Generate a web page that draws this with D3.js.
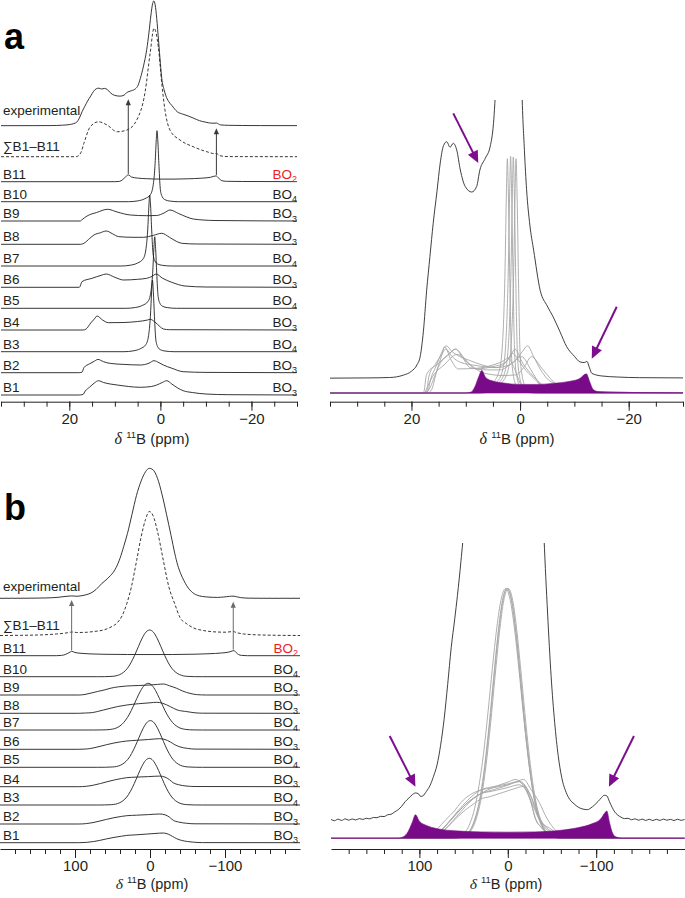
<!DOCTYPE html>
<html><head><meta charset="utf-8">
<script src="https://cdn.jsdelivr.net/npm/d3@7"></script>
<style>body{margin:0;background:#fff}svg{display:block}text{font-family:"Liberation Sans",Arial,Helvetica,sans-serif}</style>
</head><body><svg id="chart" width="685" height="898"></svg>
<script>
// ---------------- DATA ----------------
const siteNames = ["B1","B2","B3","B4","B5","B6","B7","B8","B9","B10","B11"];
const siteTypes = ["BO3","BO3","BO4","BO3","BO4","BO3","BO4","BO3","BO3","BO4","BO2"];
const minorTicksA = [35,30,25,20,15,10,5,0,-5,-10,-15,-20,-25,-30];
const majorTicksA = [20,0,-20];
const minorTicksB = [180,160,140,120,100,80,60,40,20,0,-20,-40,-60,-80,-100,-120,-140,-160,-180];
const majorTicksB = [100,0,-100];

// panel a : experimental and fitted sum (units, main peak = 100)
const expA = [[35,0.02],[28,0.05],[24,0.1],[21.5,0.4],[20,0.9],[19,1.7],[18.4,2.75],[17.8,6],[17.2,11.2],[16.6,15.5],[16,19.7],[15.3,23.8],[14.7,27.4],[14.1,29.6],[13.5,30.1],[12.9,29.4],[12.3,29.9],[11.65,29],[11,26.5],[10.1,24.4],[8.9,23.7],[8,24.4],[7.4,26.5],[6.4,28],[5.5,29.5],[4.9,32.4],[4.4,38],[3.7,48],[3.0,61],[2.5,75],[2.1,88],[1.7,98],[1.45,100],[1.15,97],[0.8,86],[0.4,68],[0,50],[-0.3,38],[-0.8,29],[-1.2,24],[-1.8,19.5],[-2.5,16.3],[-3.7,11.2],[-5,9.2],[-6.1,7.8],[-7.3,6],[-8.6,4],[-10,2.8],[-11,2.1],[-11.8,2.0],[-12.3,2.15],[-12.8,1.3],[-13.2,0.64],[-15,0.3],[-18,0.16],[-22,0.08],[-30,0.05]];
const sumA = [[35,0],[18.5,0],[17.5,3],[16.8,10.7],[15.4,24],[13.6,28],[11.7,25.4],[9.5,20],[7.35,21.4],[5.2,29.4],[3.35,52],[2.25,83],[1.4,103],[0.45,88],[-0.3,59],[-1,37.5],[-2.1,21.4],[-4.3,13.4],[-7.2,8],[-10.2,4],[-11.8,2.5],[-12.3,2.6],[-13,0.8],[-15,0.1],[-30,0]];
// panel a : components B1..B11
const a_B1 = [[35,0],[18,0],[17,0.5],[16.5,4],[15.5,8],[14.5,12],[13.6,14.3],[12.5,12.5],[11,11],[9.5,10],[7,8.5],[4.4,7.7],[2,8.5],[0.8,10],[-0.4,12.5],[-1.4,14.3],[-2.5,11],[-3.8,7],[-5,4.3],[-7,2.5],[-10,1],[-15,0.3],[-30,0]];
const a_B2 = [[35,0],[18,0],[17.2,0.5],[16.8,5],[15.5,9],[14.5,11.5],[13.7,13.3],[12.5,11],[11,9.3],[8,8.3],[4.4,7.7],[2.5,9.5],[1.4,12],[0.3,10],[-0.65,7.7],[-2.5,4.5],[-5,1],[-10,0.3],[-30,0]];
const a_B3 = [[35,0],[8,0],[6,0.8],[4.4,3],[3.2,7],[2.6,16],[2.2,35],[1.9,62],[1.75,71.7],[1.55,60],[1.3,35],[1.0,12],[0.6,5],[0,2],[-1,0.7],[-3,0],[-30,0]];
const a_B4 = [[35,0],[17,0],[16.3,1],[15.3,7],[14.5,11],[13.9,14],[12.7,10],[11.4,7.3],[8,7.5],[5,8.5],[2.8,10],[2.25,10.7],[1.2,8],[0,3],[-0.65,1],[-2,0.3],[-30,0]];
const a_B5 = [[35,0],[7.5,0],[5.5,0.8],[3.9,3],[2.7,7],[2.1,16],[1.7,35],[1.4,62],[1.25,71.5],[1.05,60],[0.8,35],[0.5,12],[0.1,5],[-0.5,2],[-1.5,0.7],[-3.5,0],[-30,0]];
const a_B6 = [[35,0],[17.8,0],[17.2,5.7],[15,9],[13,12],[11.9,13.3],[10,10],[8.1,7.3],[5,8],[3,9],[1.8,11],[0.95,13.3],[-0.5,9],[-2.5,5],[-5.4,1.3],[-10,0.3],[-30,0]];
const a_B7 = [[35,0],[8.6,0],[6.6,0.8],[5,3],[3.8,7],[3.2,16],[2.8,35],[2.5,62],[2.35,71],[2.15,60],[1.9,35],[1.6,12],[1.2,5],[0.6,2],[-0.4,0.7],[-2.4,0],[-30,0]];
const a_B8 = [[35,0],[17.5,0],[16.8,1],[15.5,6],[14.6,9.3],[13.2,11.5],[11.9,13.3],[10.5,10.5],[9.2,7.7],[6,7],[3.7,7],[1.5,9],[-0.3,11],[-2,7],[-3.5,3],[-4.7,1],[-8,0.3],[-30,0]];
const a_B9 = [[35,0],[17.6,0],[17.3,1],[16.1,5],[14,8.5],[11.6,11.7],[9.5,9],[6.6,6],[3,5.3],[0.8,5.5],[-0.8,8],[-2.1,11],[-4,7.5],[-5.8,4],[-7.2,2],[-12,0.5],[-30,0]];
const a_B10 = [[35,0],[7,0],[5,0.8],[3.4,3],[2.2,7],[1.6,16],[1.2,35],[0.9,62],[0.75,71],[0.55,60],[0.3,35],[0,12],[-0.4,5],[-1,2],[-2,0.7],[-4,0],[-30,0]];
const a_B11 = [[35,0],[10,0],[9,0.3],[8.3,2],[7.6,5],[7.05,6.8],[6.3,4.6],[5,3.6],[3,3],[0,2.6],[-3,2.6],[-6,2.9],[-9,3.5],[-11,4.4],[-12.2,5.8],[-12.8,3.5],[-13.5,1],[-14.5,0.4],[-18,0.2],[-30,0.05]];

// panel b : experimental and fitted sum
const expB = [[200,0.05],[196,-0.06],[192,0.08],[188,-0.04],[184,0.1],[180,-0.02],[176,0.09],[172,0.0],[168,0.12],[164,0.05],[160,0.15],[156,0.1],[152,0.22],[148,0.2],[144,0.32],[140,0.3],[136,0.45],[132,0.5],[128,0.7],[124,0.9],[120,1.2],[116,1.6],[112,1.9],[108,2.2],[104.5,2.35],[101.5,2.3],[98.5,2.05],[96,2.1],[92,2.5],[88,3.0],[84,3.8],[80,4.8],[76,6.5],[72,8.8],[68,11.8],[64,15],[60,17.5],[57,19.5],[53,22.5],[49,26],[45,31],[40,40],[35,52],[30,65],[24,84],[18,103],[12,117],[6,126.5],[1,130],[-4,128.5],[-10,120],[-16,104],[-22,84],[-28,63],[-33,45],[-37,33],[-41,24.5],[-45,18],[-49,12.5],[-53,8.5],[-57,5.6],[-61,3.7],[-66,2.4],[-70,1.8],[-75,1.4],[-80,1.1],[-85,0.95],[-90,0.9],[-94,1.05],[-98,1.3],[-102,1.6],[-106,1.95],[-109,2.15],[-112,2.1],[-115,1.6],[-118,1.1],[-121,0.7],[-124,0.45],[-128,0.25],[-132,0.12],[-136,0.15],[-140,0.02],[-144,0.1],[-148,-0.02],[-152,0.08],[-156,-0.04],[-160,0.07],[-164,-0.05],[-168,0.06],[-172,-0.04],[-176,0.08],[-180,-0.02],[-184,0.06],[-188,-0.05],[-192,0.07],[-196,-0.03],[-200,0.05]];
const sumB = [[200,0],[150,0.5],[125,1.5],[112,2.5],[106,3.3],[103,3.5],[98,3],[85,3.2],[75,4],[62,5.5],[52,8.5],[44,12.5],[37,20],[31,31.7],[25,48],[17.8,75],[12,98],[6,116],[1,124],[-4,120],[-10,104],[-17.8,75],[-25,49],[-33,31.7],[-40,18],[-49,11.7],[-60,7],[-71,5],[-85,3.7],[-100,3.3],[-108,3.8],[-111,4],[-115,3],[-125,1.5],[-150,0.5],[-200,0]];
// panel b : components B1..B11
const b_B1 = [[200,0],[95,0],[85,0.3],[75,1.2],[67,2.3],[58,3.8],[48,5.3],[38,6.5],[31,7.3],[20,7.8],[5,8.6],[-8,9.3],[-17.8,9.7],[-25,8.3],[-30,6.3],[-35.6,4],[-42,2.3],[-50,1.2],[-58,0.5],[-70,0.1],[-200,0]];
const b_B2 = [[200,0],[95,0],[85,0.4],[76,1.4],[68,2.8],[58,4.6],[48,6.3],[38,7.6],[31,8.3],[18,8.8],[2,9.4],[-13,10],[-20,9.2],[-26,6.8],[-31,3.7],[-38,2],[-49,0.7],[-60,0.2],[-200,0]];
const b_B3 = [[200,0],[70,0],[61,0.04],[51,0.35],[41,2.05],[36,4.3],[31,8.0],[26,13.8],[21,21.4],[16,30.1],[11,38.4],[6,44.5],[1,46.7],[-4,44.5],[-9,38.4],[-14,30.1],[-19,21.4],[-24,13.8],[-29,8.0],[-34,4.3],[-39,2.05],[-49,0.35],[-59,0.04],[-70,0],[-200,0]];
const b_B4 = [[200,0],[95,0],[85,0.4],[75,1.6],[66,3.2],[56,5.2],[46,7],[38,8.2],[31,9],[18,9.6],[2,10.1],[-13,10.6],[-20,9.6],[-26,7],[-31,3.9],[-38,2],[-48,0.7],[-60,0.2],[-200,0]];
const b_B5 = [[200,0],[70,0],[59.5,0.04],[49.5,0.35],[39.5,2.05],[34.5,4.3],[29.5,8.0],[24.5,13.8],[19.5,21.4],[14.5,30.1],[9.5,38.4],[4.5,44.5],[-0.5,46.7],[-5.5,44.5],[-10.5,38.4],[-15.5,30.1],[-20.5,21.4],[-25.5,13.8],[-30.5,8.0],[-35.5,4.3],[-40.5,2.05],[-50.5,0.35],[-60.5,0.04],[-70,0],[-200,0]];
const b_B6 = [[200,0],[95,0],[85,0.3],[76,1.3],[68,2.7],[58,4.6],[48,6.3],[38,7.6],[31,8.3],[18,9],[2,9.8],[-13,10.6],[-20,9.8],[-27,7.4],[-33,4.6],[-40,2.4],[-50,0.9],[-60,0.2],[-200,0]];
const b_B7 = [[200,0],[75,0],[62.5,0.1],[52.5,0.6],[42.5,2.9],[37.5,5.6],[32.5,9.9],[27.5,15.8],[22.5,23.4],[17.5,31.7],[12.5,39.3],[7.5,44.7],[2.5,46.7],[-2.5,44.7],[-7.5,39.3],[-12.5,31.7],[-17.5,23.4],[-22.5,15.8],[-27.5,9.9],[-32.5,5.6],[-37.5,2.9],[-47.5,0.6],[-57.5,0.1],[-70,0],[-200,0]];
const b_B8 = [[200,0],[95,0],[86,0.3],[77,0.7],[70,1.8],[62,3.3],[53,5],[43,6.8],[31,8.3],[15,9.6],[0,10.5],[-9,11],[-17,10],[-27,6.7],[-36,3.4],[-49,1.7],[-60,0.5],[-70,0.1],[-200,0]];
const b_B9 = [[200,0],[95,0],[88,0.4],[80,1.7],[70,3.5],[60,5.2],[53,6.7],[42,8.2],[31,9],[15,9.5],[0,10],[-10,10.6],[-17.8,11],[-26,9.2],[-35.6,6.7],[-44,3.8],[-53,1.7],[-62,0.4],[-75,0],[-200,0]];
const b_B10 = [[200,0],[70,0],[60.5,0.04],[50.5,0.35],[40.5,2.05],[35.5,4.3],[30.5,8.0],[25.5,13.8],[20.5,21.4],[15.5,30.1],[10.5,38.4],[5.5,44.5],[0.5,46.7],[-4.5,44.5],[-9.5,38.4],[-14.5,30.1],[-19.5,21.4],[-24.5,13.8],[-29.5,8.0],[-34.5,4.3],[-39.5,2.05],[-49.5,0.35],[-59.5,0.04],[-70,0],[-200,0]];
const b_B11 = [[200,0],[125,0],[118,0.3],[113,1.2],[108,3],[104.5,4.4],[100,3.2],[92,2.4],[80,1.8],[60,1.4],[30,1.2],[0,1.15],[-30,1.2],[-60,1.5],[-80,2],[-95,2.7],[-105,3.6],[-110,4.8],[-112,5.1],[-115,3],[-118,1.2],[-122,0.3],[-130,0],[-200,0]];

// annotation anchors (ppm, height in experimental units)
const arrowPpmA = [7.05, -12.3], arrowTipA = [21.2, -2.1];
const arrowPpmB = [104.5, -111], arrowTipB = [-1.7, -3.4];
const purpleArrowsA = [[12.3,33.7,7.7,27.4],[-17.8,9.1,-13.2,2.5]];
const purpleArrowsB = [[133.6,7.3,104.5,2.9],[-142.7,7.3,-114.4,2.9]];

const compsA = [a_B1,a_B2,a_B3,a_B4,a_B5,a_B6,a_B7,a_B8,a_B9,a_B10,a_B11];
const compsB = [b_B1,b_B2,b_B3,b_B4,b_B5,b_B6,b_B7,b_B8,b_B9,b_B10,b_B11];

// ---------------- DRAWING ----------------
const INK = "#231f20", GRAY = "#a6a6a6", PURPLE = "#790a88", RED = "#ed1c24";
const svg = d3.select("#chart");
const defs = svg.append("defs");

const panels = [
  { comps: compsA, exp: expA, sum: sumA,
    xL: d3.scaleLinear().domain([35,-30]).range([1,297]),
    xR: d3.scaleLinear().domain([35,-30]).range([330,683]),
    minor: minorTicksA, major: majorTicksA, axisY: 401.7, pad: 3, titleY: 444, titleSize: 15,
    expBase: 125.7, sumBase: 156.7, kExpL: 1.247, kExpR: 7.86, kCompR: 3.3,
    bases: [395,372.7,351.7,330,308.3,287.3,266,244.3,221,201.7,181.7],
    expLabelY: 115, sumLabelY: 151, rightLabelX: 297,
    expBaseR: 378.3, compBaseR: 393, clipTop: 100,
    arrowPpm: arrowPpmA, arrowTip: arrowTipA, purple: purpleArrowsA,
    letter: "a", letterY: 49, titleXL: 152, titleXR: 517, id: "A" },
  { comps: compsB, exp: expB, sum: sumB,
    xL: d3.scaleLinear().domain([200,-200]).range([0,300]),
    xR: d3.scaleLinear().domain([200,-200]).range([331,684.6]),
    minor: minorTicksB, major: majorTicksB, axisY: 849, pad: 2.5, titleY: 889, titleSize: 14.5,
    expBase: 598.3, sumBase: 635.5, kExpL: 1, kExpR: 11.5, kCompR: 5.35,
    bases: [842.7,824,805,786.7,767.3,749.3,730,713.3,695,676.7,655.7],
    expLabelY: 591, sumLabelY: 630, rightLabelX: 298,
    expBaseR: 820, compBaseR: 838.3, clipTop: 543,
    arrowPpm: arrowPpmB, arrowTip: arrowTipB, purple: purpleArrowsB,
    letter: "b", letterY: 520, titleXL: 152, titleXR: 506, id: "B" }
];

function lineGen(x, base, k){
  return d3.line().x(d => x(d[0])).y(d => base - d[1]*k).curve(d3.curveMonotoneX);
}
function drawLine(g, data, x, base, k, stroke, w, dash){
  g.append("path").datum(data).attr("d", lineGen(x, base, k))
    .attr("fill","none").attr("stroke",stroke).attr("stroke-width",w)
    .attr("stroke-linejoin","round").attr("stroke-dasharray", dash || null);
}
function drawAxis(x, p){
  const fmt = d => d < 0 ? "\u2212" + Math.abs(d) : String(d);
  const g1 = svg.append("g").attr("transform",`translate(0,${p.axisY})`)
    .call(d3.axisBottom(x).tickValues(p.minor).tickSize(5).tickSizeOuter(0).tickFormat(""));
  const g2 = svg.append("g").attr("transform",`translate(0,${p.axisY})`)
    .call(d3.axisBottom(x).tickValues(p.major).tickSize(9).tickPadding(p.pad).tickSizeOuter(0).tickFormat(fmt));
  g2.select(".domain").remove();
  [g1,g2].forEach(g => {
    g.selectAll(".domain, .tick line").attr("stroke",INK).attr("stroke-width",1);
    g.attr("font-family",'"Liberation Sans",Arial,sans-serif').attr("font-size",15);
    g.selectAll("text").attr("fill",INK);
  });
}
function axisTitle(cx, y, size){
  const t = svg.append("text").attr("x",cx).attr("y",y).attr("text-anchor","middle")
    .attr("font-size",size).attr("fill",INK);
  t.append("tspan").attr("font-family",'"Liberation Serif","Times New Roman",serif')
    .attr("font-style","italic").attr("font-size",size+1).text("\u03B4");
  t.append("tspan").text(" ");
  t.append("tspan").attr("font-size",9.5).attr("dy",-6).text("11");
  t.append("tspan").attr("dy",6).text("B (ppm)");
}
function arrow(g, x1, y1, x2, y2, color, w, hl, hw){
  const a = Math.atan2(y2-y1, x2-x1);
  const bx = x2 - hl*Math.cos(a), by = y2 - hl*Math.sin(a);
  g.append("line").attr("x1",x1).attr("y1",y1).attr("x2",bx+Math.cos(a)).attr("y2",by+Math.sin(a))
    .attr("stroke",color).attr("stroke-width",w);
  const px = -Math.sin(a)*hw, py = Math.cos(a)*hw;
  g.append("path").attr("d",`M${x2},${y2}L${bx+px},${by+py}L${bx-px},${by-py}Z`).attr("fill",color);
}

panels.forEach(p => {
  // ---- left stacked panel ----
  const gl = svg.append("g");
  p.comps.forEach((c,i) => drawLine(gl, c, p.xL, p.bases[i], 1, INK, 0.9));
  drawLine(gl, p.sum, p.xL, p.sumBase, p.kExpL, INK, 0.9, "3,2");
  drawLine(gl, p.exp, p.xL, p.expBase, p.kExpL, INK, 0.9);
  // vertical arrows from BO2 horns
  p.arrowPpm.forEach((ppm,i) => {
    const c = p.comps[10];
    const hv = d3.max(c.filter(d => Math.abs(d[0]-ppm) < 1.5), d => d[1]);
    arrow(gl, p.xL(ppm), p.bases[10] - hv - 1, p.xL(ppm), p.expBase - p.arrowTip[i]*p.kExpL,
      p.id === "A" ? "#3a3a3a" : "#6a6a6a", 1, 6, 2.6);
  });
  // labels
  gl.append("text").attr("x",3).attr("y",p.expLabelY).attr("font-size",13.5).attr("fill",INK).text("experimental");
  gl.append("text").attr("x",3).attr("y",p.sumLabelY).attr("font-size",13.5).attr("fill",INK).text("\u2211B1\u2013B11");
  siteNames.forEach((n,i) => {
    gl.append("text").attr("x",3).attr("y",p.bases[i]-3).attr("font-size",13.5).attr("fill",INK).text(n);
    const t = gl.append("text").attr("x",p.rightLabelX).attr("y",p.bases[i]-3).attr("text-anchor","end")
      .attr("font-size",13.5).attr("fill", siteTypes[i]==="BO2" ? RED : INK);
    t.append("tspan").text(siteTypes[i].slice(0,2));
    t.append("tspan").attr("font-size",9).attr("dy",3.5).text(siteTypes[i].slice(2));
  });
  drawAxis(p.xL, p);
  axisTitle(p.titleXL, p.titleY, p.titleSize);
  svg.append("text").attr("x",4).attr("y",p.letterY).attr("font-size",36).attr("font-weight","bold")
    .attr("fill","#000").text(p.letter);

  // ---- right overlay panel ----
  const gr = svg.append("g");
  const clip = defs.append("clipPath").attr("id","clip"+p.id);
  clip.append("rect").attr("x",p.xR.range()[0]-2).attr("y",p.clipTop)
    .attr("width",p.xR.range()[1]-p.xR.range()[0]+4).attr("height",p.axisY - p.clipTop);
  p.comps.slice(0,10).forEach(c => drawLine(gr, c, p.xR, p.compBaseR, p.kCompR, GRAY, 0.9));
  gr.append("path").datum(p.comps[10])
    .attr("d", d3.area().x(d => p.xR(d[0])).y0(p.compBaseR).y1(d => p.compBaseR - d[1]*p.kCompR).curve(d3.curveMonotoneX))
    .attr("fill",PURPLE).attr("stroke",PURPLE).attr("stroke-width",0.6);
  const ge = gr.append("g").attr("clip-path",`url(#clip${p.id})`);
  drawLine(ge, p.exp, p.xR, p.expBaseR, p.kExpR, "#2a2a2a", 0.9);
  p.purple.forEach(a => arrow(gr, p.xR(a[0]), p.expBaseR - a[1]*p.kExpR, p.xR(a[2]), p.expBaseR - a[3]*p.kExpR, "#7d0f8e", 2, 12, 5.5));
  drawAxis(p.xR, p);
  axisTitle(p.titleXR, p.titleY, p.titleSize);
});
</script></body></html>
